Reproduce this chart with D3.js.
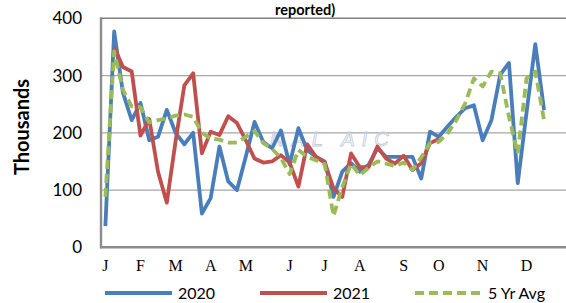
<!DOCTYPE html>
<html>
<head>
<meta charset="utf-8">
<script src="https://cdn.jsdelivr.net/npm/d3@7"></script>
<style>
  body { margin: 0; background: #fff; }
  svg { display: block; }
</style>
</head>
<body>
<div class="chart"></div>
<script>
// weekly values, thousands
var blue2020 = [37, 377, 270, 222, 252, 187, 193, 240, 200, 180, 200, 59, 86, 176, 115, 100, 158, 219, 184, 173,
  204, 145, 208, 170, 158, 150, 88, 132, 147, 132, 144, 173, 158, 158, 158, 158, 120, 202, 193, 211,
  228, 243, 248, 187, 222, 301, 322, 112, 235, 355, 240];
var red2021 = [null, 350, 315, 307, 195, 224, 132, 78, 185, 283, 304, 164, 202, 196, 229, 217, 187, 155, 148, 150,
  161, 148, 106, 180, 158, 148, 103, 88, 164, 140, 140, 176, 155, 146, 160, 135, 147, 182, 189];
var avg5yr = [88, 342, 275, 246, 245, 218, 222, 225, 230, 232, 228, 200, 190, 188, 183, 183, 193, 203, 182, 172,
  156, 128, 170, 158, 152, 145, 55, 105, 146, 126, 139, 150, 146, 142, 148, 135, 157, 182, 184, 199,
  222, 251, 295, 281, 307, 304, 228, 164, 295, 307, 222];

var monthLabels = ["J", "F", "M", "A", "M", "J", "J", "A", "S", "O", "N", "D"];
var monthWeeks = [0, 4, 8, 12, 16, 21, 25, 29, 34, 38, 43, 48];
var yTicks = [0, 100, 200, 300, 400];
var seriesNames = ["2020", "2021", "5 Yr Avg"];

var width = 566, height = 303;
var svg = d3.select(".chart").append("svg")
  .attr("width", width)
  .attr("height", height);

var x = d3.scaleLinear().domain([-0.5, 52.5]).range([101, 566]);
var y = d3.scaleLinear().domain([0, 400]).range([247.3, 18.3]);

// gridlines
svg.selectAll(".grid")
  .data(yTicks.filter(function(d) { return d > 0 && d < 400; }))
  .join("line")
  .attr("x1", x(-0.5)).attr("x2", width)
  .attr("y1", function(d) { return y(d); })
  .attr("y2", function(d) { return y(d); })
  .attr("stroke", "#a6a6a6")
  .attr("stroke-width", 1.3);

// top border
svg.append("line")
  .attr("x1", x(-0.5)).attr("x2", width)
  .attr("y1", y(400)).attr("y2", y(400))
  .attr("stroke", "#7f7f7f").attr("stroke-width", 1.6);

// faint watermark
svg.append("text")
  .attr("x", 270).attr("y", 146)
  .style("font", "italic 20px 'Liberation Sans', sans-serif")
  .attr("fill", "none")
  .attr("stroke", "#c3cedd")
  .attr("stroke-width", 0.9)
  .attr("letter-spacing", 7)
  .text("NAL AIC");

// y tick labels
svg.selectAll(".ytick")
  .data(yTicks)
  .join("text")
  .attr("x", 82)
  .attr("y", function(d) { return y(d) + 6; })
  .attr("text-anchor", "end")
  .style("font", "17px Lato, sans-serif")
  .attr("fill", "#000")
  .text(function(d) { return d; });

// y title
svg.append("text")
  .attr("transform", "translate(29,127) rotate(-90)")
  .attr("text-anchor", "middle")
  .style("font", "bold 20px Lato, sans-serif")
  .text("Thousands");

// x labels
svg.selectAll(".xtick")
  .data(monthLabels)
  .join("text")
  .attr("x", function(d, i) { return x(monthWeeks[i]); })
  .attr("y", 271)
  .attr("text-anchor", "middle")
  .style("font", "16px 'Liberation Serif', serif")
  .text(function(d) { return d; });

// title fragment
svg.append("text")
  .attr("x", 275).attr("y", 15)
  .style("font", "bold 14.5px Lato, sans-serif")
  .text("reported)");

var line = d3.line()
  .defined(function(d) { return d != null; })
  .x(function(d, i) { return x(i); })
  .y(function(d) { return y(d); });

var series = [
  { name: seriesNames[0], values: blue2020, color: "#4a7ebb", dash: null },
  { name: seriesNames[1], values: red2021, color: "#c0504d", dash: null },
  { name: seriesNames[2], values: avg5yr, color: "#9bbb59", dash: "9,5" }
];

svg.selectAll(".series")
  .data(series)
  .join("path")
  .attr("d", function(d) { return line(d.values); })
  .attr("fill", "none")
  .attr("stroke", function(d) { return d.color; })
  .attr("stroke-width", 3.8)
  .attr("stroke-linejoin", "round")
  .attr("stroke-dasharray", function(d) { return d.dash; });

// axes lines (left + bottom)
svg.append("line")
  .attr("x1", x(-0.5)).attr("x2", x(-0.5))
  .attr("y1", y(400) - 1).attr("y2", y(0) + 1)
  .attr("stroke", "#8c8c8c").attr("stroke-width", 2.4);
svg.append("line")
  .attr("x1", x(-0.5) - 1).attr("x2", width)
  .attr("y1", y(0)).attr("y2", y(0))
  .attr("stroke", "#8c8c8c").attr("stroke-width", 2.4);

// legend
var legendX = [105, 260, 415];
var legend = svg.selectAll(".legend")
  .data(series)
  .join("g")
  .attr("transform", function(d, i) { return "translate(" + legendX[i] + ",293)"; });

legend.append("line")
  .attr("x1", 0).attr("x2", 67)
  .attr("stroke", function(d) { return d.color; })
  .attr("stroke-width", 3.8)
  .attr("stroke-dasharray", function(d) { return d.dash; });

legend.append("text")
  .attr("x", 73).attr("y", 6)
  .style("font", "16px Lato, sans-serif")
  .text(function(d) { return d.name; });
</script>
</body>
</html>
